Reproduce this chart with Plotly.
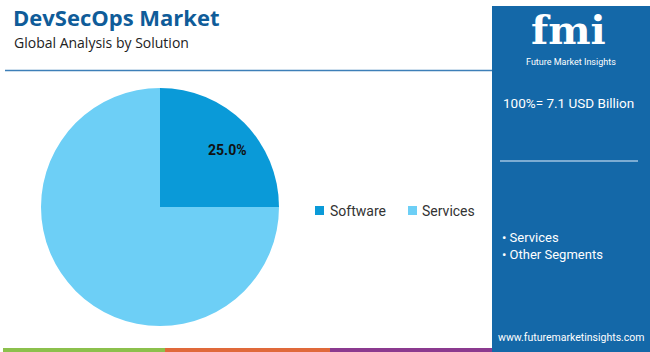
import math
import plotly.graph_objects as go

title = "DevSecOps Market"
subtitle = "Global Analysis by Solution"
categories = ["Software", "Services"]
values = [25.0, 75.0]
colors = ["#0a9ad8", "#6dcff6"]
total_label = "100%= 7.1 USD Billion"
segments = ["Services", "Other Segments"]
website = "www.futuremarketinsights.com"

W, H = 650, 352
def px(x): return x / W
def py(y): return 1 - y / H

# pie geometry (pixels)
cx, cy, r = 160, 207, 119

fig = go.Figure()
fig.add_trace(go.Pie(
    labels=categories, values=values, sort=False, direction="clockwise", rotation=0,
    marker=dict(colors=colors, line=dict(width=0)),
    textinfo="none",
    domain=dict(x=[px(cx - r), px(cx + r)], y=[py(cy + r), py(cy - r)]),
    showlegend=False, hoverinfo="skip",
))

# label for first slice, placed at the slice's mid-angle
total = sum(values)
mid = (values[0] / 2) / total * 2 * math.pi
lx = cx + 0.8 * r * math.sin(mid)
ly = cy - 0.68 * r * math.cos(mid)

shapes = [
    dict(type="rect", xref="paper", yref="paper", x0=px(492), x1=1, y0=0, y1=py(6),
         fillcolor="#1468a8", line=dict(width=0), layer="below"),
    dict(type="line", xref="paper", yref="paper", x0=px(5), x1=px(492), y0=py(70.5), y1=py(70.5),
         line=dict(color="#3d7fb8", width=1.5)),
    dict(type="line", xref="paper", yref="paper", x0=px(500), x1=px(638), y0=py(161), y1=py(161),
         line=dict(color="#9fc3e2", width=1.5)),
    dict(type="rect", xref="paper", yref="paper", x0=px(3), x1=px(165), y0=0, y1=py(348),
         fillcolor="#8cc04c", line=dict(width=0)),
    dict(type="rect", xref="paper", yref="paper", x0=px(165), x1=px(330), y0=0, y1=py(348),
         fillcolor="#e0693a", line=dict(width=0)),
    dict(type="rect", xref="paper", yref="paper", x0=px(330), x1=px(492), y0=0, y1=py(348),
         fillcolor="#8b3a8f", line=dict(width=0)),
    dict(type="rect", xref="paper", yref="paper", x0=px(315), x1=px(324), y0=py(215), y1=py(206),
         fillcolor=colors[0], line=dict(width=0)),
    dict(type="rect", xref="paper", yref="paper", x0=px(408), x1=px(417), y0=py(215), y1=py(206),
         fillcolor=colors[1], line=dict(width=0)),
]

ann = [
    dict(text=f"<b>{values[0]:.1f}%</b>", x=px(lx), y=py(ly), xanchor="center", yanchor="middle",
         font=dict(family="Roboto", size=14, color="#111111")),
    dict(text=f"<b>{title}</b>", x=px(11), y=py(17), xanchor="left", yanchor="middle",
         font=dict(family="Open Sans", size=22, color="#0f5c99")),
    dict(text=subtitle, x=px(12), y=py(42), xanchor="left", yanchor="middle",
         font=dict(family="Open Sans", size=14, color="#222222")),
    dict(text=categories[0], x=px(328), y=py(211), xanchor="left", yanchor="middle",
         font=dict(family="Roboto", size=14, color="#333333")),
    dict(text=categories[1], x=px(420), y=py(211), xanchor="left", yanchor="middle",
         font=dict(family="Roboto", size=14, color="#333333")),
    dict(text="<b>fmi</b>", x=px(568), y=py(30), xanchor="center", yanchor="middle",
         font=dict(family="DejaVu Serif", size=40, color="#ffffff")),
    dict(text="Future Market Insights", x=px(571), y=py(62), xanchor="center", yanchor="middle",
         font=dict(family="Roboto", size=9, color="#ffffff")),
    dict(text=total_label, x=px(501), y=py(103), xanchor="left", yanchor="middle",
         font=dict(family="Roboto", size=13.5, color="#ffffff")),
    dict(text="• " + segments[0], x=px(500), y=py(237), xanchor="left", yanchor="middle",
         font=dict(family="Roboto", size=13, color="#ffffff")),
    dict(text="• " + segments[1], x=px(500), y=py(254), xanchor="left", yanchor="middle",
         font=dict(family="Roboto", size=13, color="#ffffff")),
    dict(text=website, x=px(571), y=py(337), xanchor="center", yanchor="middle",
         font=dict(family="Roboto", size=10.5, color="#ffffff")),
]
for a in ann:
    a.update(xref="paper", yref="paper", showarrow=False)

fig.update_layout(
    width=W, height=H, margin=dict(l=0, r=0, t=0, b=0),
    paper_bgcolor="#ffffff", plot_bgcolor="#ffffff",
    shapes=shapes, annotations=ann,
)
fig.write_html("out.html")
